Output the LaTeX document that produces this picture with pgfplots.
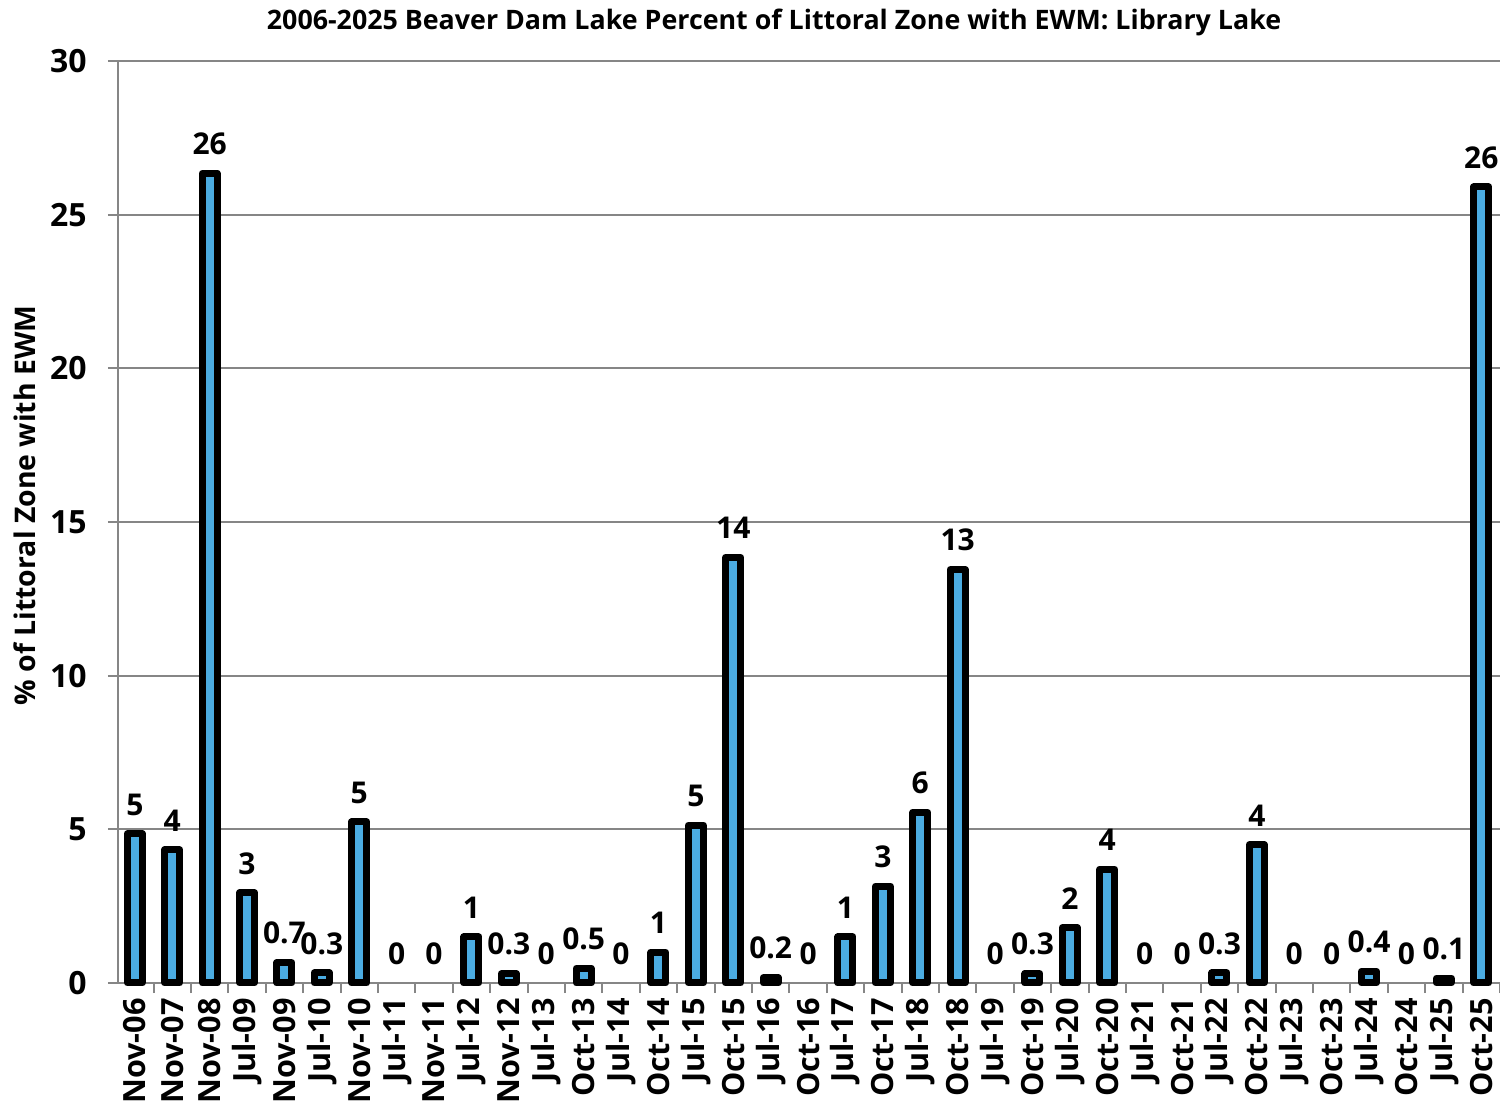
\documentclass[border=0pt]{standalone}
\usepackage{fontspec}
\setmainfont{Open Sans}
\usepackage{pgfplots}
\usepackage{pgfplotstable}
\pgfplotsset{compat=1.18}
\definecolor{barblue}{RGB}{75,172,226}
\definecolor{gridgray}{RGB}{134,134,134}
\pgfplotstableread{
x y lab
0 4.85 5
1 4.33 4
2 26.35 26
3 2.93 3
4 0.66 0.7
5 0.33 0.3
6 5.24 5
7 0 0
8 0 0
9 1.50 1
10 0.30 0.3
11 0 0
12 0.48 0.5
13 0 0
14 1.00 1
15 5.14 5
16 13.85 14
17 0.17 0.2
18 0 0
19 1.50 1
20 3.15 3
21 5.55 6
22 13.45 13
23 0 0
24 0.30 0.3
25 1.80 2
26 3.70 4
27 0 0
28 0 0
29 0.33 0.3
30 4.50 4
31 0 0
32 0 0
33 0.38 0.4
34 0 0
35 0.16 0.1
36 25.90 26
}\datatable
\newcommand{\ticklbl}{\bfseries\fontsize{16}{19}\selectfont}
\newcommand{\xticklbl}{\bfseries\fontsize{15.3}{18}\selectfont}
\newcommand{\datlbl}{\bfseries\fontsize{15}{18}\selectfont}
\newcommand{\titlelbl}{\bfseries\fontsize{13.4}{16}\selectfont}
\newcommand{\ylbl}{\bfseries\fontsize{14.2}{17}\selectfont}
\begin{document}
\begin{tikzpicture}
\useasboundingbox (0,0) rectangle (750pt,554.5pt);
\begin{axis}[
  at={(59pt,63pt)}, anchor=south west,
  scale only axis, width=691pt, height=461pt,
  xmin=-0.45, xmax=36.5, ymin=0, ymax=30,
  ytick={0,5,...,30},
  xtick={0,...,36},
  xticklabels={Nov-06,Nov-07,Nov-08,Jul-09,Nov-09,Jul-10,Nov-10,Jul-11,Nov-11,Jul-12,Nov-12,Jul-13,Oct-13,Jul-14,Oct-14,Jul-15,Oct-15,Jul-16,Oct-16,Jul-17,Oct-17,Jul-18,Oct-18,Jul-19,Oct-19,Jul-20,Oct-20,Jul-21,Oct-21,Jul-22,Oct-22,Jul-23,Oct-23,Jul-24,Oct-24,Jul-25,Oct-25},
  minor xtick={-0.5,0.5,...,36.5},
  axis x line*=bottom, axis y line*=left,
  axis line style={-, draw=gridgray, line width=1pt},
  tick align=outside,
  major x tick style={draw=none},
  minor x tick style={draw=gridgray, line width=1pt},
  major y tick style={draw=gridgray, line width=1pt},
  major tick length=5pt, minor tick length=5pt,
  ymajorgrids, grid style={draw=gridgray, line width=1pt},
  /pgf/number format/assume math mode=true,
  yticklabel style={font=\ticklbl, inner xsep=0pt, xshift=-10.5pt},
  xticklabel style={font=\xticklbl, rotate=90, anchor=east, inner xsep=2.5pt, inner ysep=0pt},
  ylabel={\% of Littoral Zone with EWM},
  ylabel style={font=\ylbl, at={(axis description cs:-0.0673,0.518)}, anchor=center},
  clip=false,
]
\addplot[ybar, bar width=7.5pt, bar shift=0pt, fill=barblue, draw=black, line width=3.5pt, line join=round, restrict y to domain=0.01:100]
  table[x=x, y=y] {\datatable};
\addplot[draw=none, mark=none, nodes near coords, point meta=explicit symbolic,
  every node near coord/.style={font=\datlbl, anchor=south, inner sep=0pt, yshift=9pt}]
  table[x=x, y=y, meta=lab] {\datatable};
\node[font=\titlelbl, anchor=center] at (rel axis cs:0.4747,1.0423) {2006-2025 Beaver Dam Lake Percent of Littoral Zone with EWM: Library Lake};
\end{axis}
\end{tikzpicture}
\end{document}
